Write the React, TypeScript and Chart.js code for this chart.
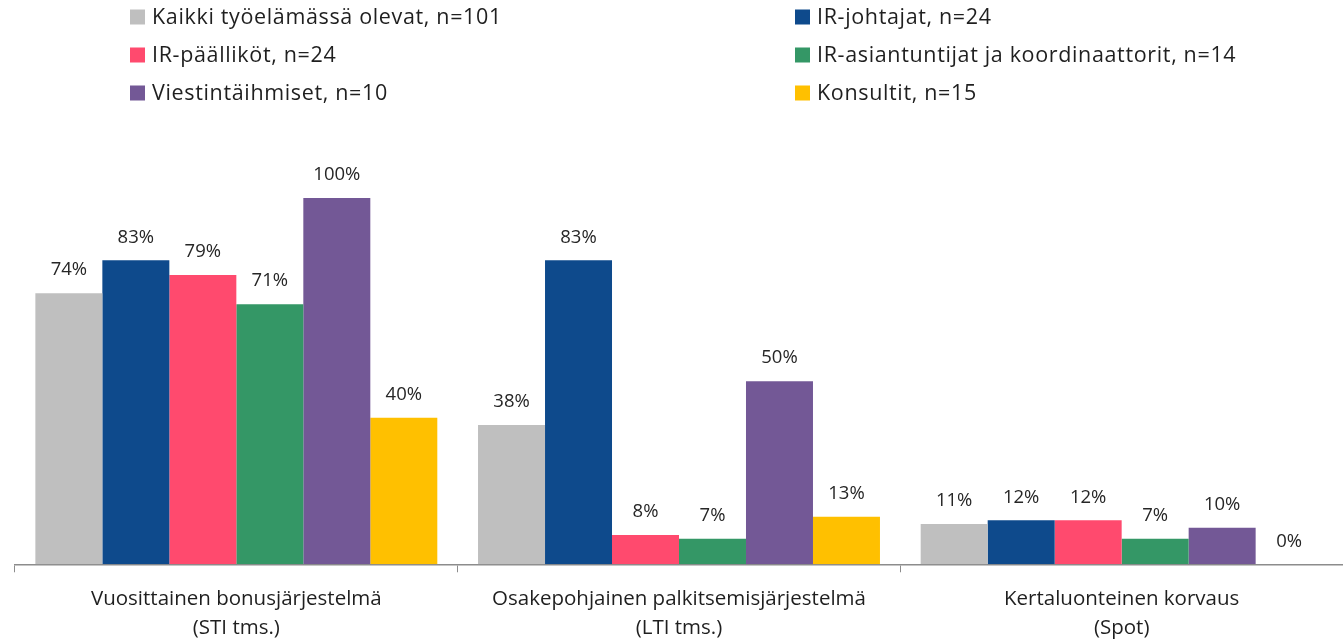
import React, { useEffect, useRef } from "react";
import { Chart, registerables } from "chart.js";

Chart.register(...registerables);

const categories: string[][] = [
  ["Vuosittainen bonusjärjestelmä", "(STI tms.)"],
  ["Osakepohjainen palkitsemisjärjestelmä", "(LTI tms.)"],
  ["Kertaluonteinen korvaus", "(Spot)"],
];

const seriesNames: string[] = [
  "Kaikki työelämässä olevat, n=101",
  "IR-johtajat, n=24",
  "IR-päälliköt, n=24",
  "IR-asiantuntijat ja koordinaattorit, n=14",
  "Viestintäihmiset, n=10",
  "Konsultit, n=15",
];

const kaikki: number[] = [74, 38, 11];
const irJohtajat: number[] = [83, 83, 12];
const irPaallikot: number[] = [79, 8, 12];
const irAsiantuntijat: number[] = [71, 7, 7];
const viestinta: number[] = [100, 50, 10];
const konsultit: number[] = [40, 13, 0];

const seriesValues: number[][] = [kaikki, irJohtajat, irPaallikot, irAsiantuntijat, viestinta, konsultit];
const colors: string[] = ["#BFBFBF", "#0E4A8C", "#FF4A6E", "#349766", "#735896", "#FFC000"];

const FONT = "'Open Sans', 'DejaVu Sans', sans-serif";

const valueLabelPlugin = {
  id: "valueLabels",
  afterDatasetsDraw(chart: any) {
    const ctx = chart.ctx;
    ctx.save();
    ctx.font = `18.5px ${FONT}`;
    ctx.fillStyle = "#262626";
    ctx.textAlign = "center";
    ctx.textBaseline = "middle";
    chart.data.datasets.forEach((ds: any, i: number) => {
      const meta = chart.getDatasetMeta(i);
      meta.data.forEach((el: any, j: number) => {
        ctx.fillText(`${ds.data[j]}%`, el.x, el.y - 23);
      });
    });
    ctx.restore();
  },
};

const legendPlugin = {
  id: "gridLegend",
  afterDraw(chart: any) {
    const ctx = chart.ctx;
    ctx.save();
    ctx.font = `21.5px ${FONT}`;
    try {
      (ctx as any).letterSpacing = "0.65px";
    } catch (e) {}
    ctx.textBaseline = "middle";
    ctx.textAlign = "left";
    const colX = [130, 795];
    const rowY = [17, 55, 93];
    seriesNames.forEach((name, i) => {
      const x = colX[i % 2];
      const y = rowY[Math.floor(i / 2)];
      ctx.fillStyle = colors[i];
      ctx.fillRect(x, y - 7.5, 15, 15);
      ctx.fillStyle = "#1F1F1F";
      ctx.fillText(name, x + 22, y + 1);
    });
    ctx.restore();
  },
};

export default function App() {
  const ref = useRef<HTMLCanvasElement | null>(null);
  useEffect(() => {
    if (!ref.current) return;
    const chart = new Chart(ref.current, {
      type: "bar",
      data: {
        labels: categories,
        datasets: seriesValues.map((vals, i) => ({
          label: seriesNames[i],
          data: vals,
          backgroundColor: colors[i],
          borderWidth: 0,
          categoryPercentage: 0.908,
          barPercentage: 1,
        })),
      },
      options: {
        responsive: false,
        animation: false,
        layout: { padding: { top: 198, left: 15, right: 0, bottom: -15.5 } },
        plugins: { legend: { display: false }, tooltip: { enabled: false } },
        scales: {
          x: {
            offset: true,
            grid: {
              offset: true,
              drawOnChartArea: false,
              drawTicks: true,
              tickLength: 8,
              color: "#8C8C8C",
            },
            border: { display: true, color: "#8C8C8C", width: 1.5 },
            ticks: {
              color: "#1F1F1F",
              padding: 12,
              font: { family: FONT, size: 20.5, lineHeight: 1.42 },
              maxRotation: 0,
              autoSkip: false,
            },
          },
          y: {
            display: false,
            min: 0,
            max: 100,
          },
        },
      },
      plugins: [valueLabelPlugin, legendPlugin],
    });
    return () => chart.destroy();
  }, []);
  return (
    <div style={{ position: "absolute", left: 0, top: 0, width: 1343, height: 639, background: "#fff" }}>
      <canvas ref={ref} width={1343} height={639} style={{ display: "block" }} />
    </div>
  );
}
